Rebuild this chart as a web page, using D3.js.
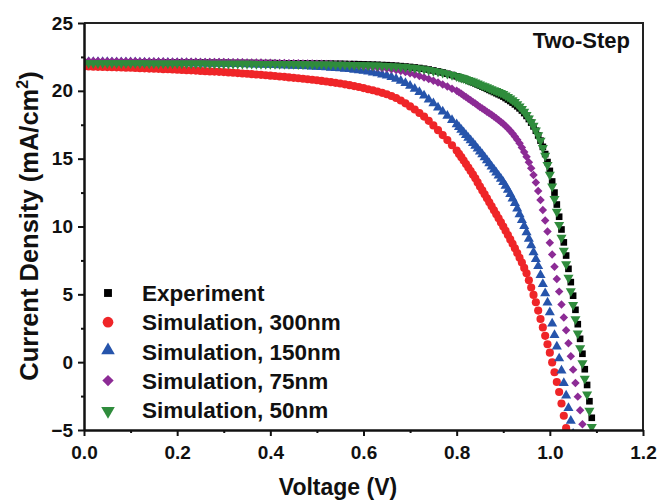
<!DOCTYPE html>
<html>
<head>
<meta charset="utf-8">
<script src="https://cdn.jsdelivr.net/npm/d3@7"></script>
<style>
  html, body { margin: 0; padding: 0; background: #fff; }
  svg { display: block; }
  text { font-family: Arial, "Liberation Sans", Helvetica, sans-serif; font-weight: bold; fill: #111; }
</style>
</head>
<body>
<svg id="chart" width="659" height="500"></svg>
<script>
// ---------------- data ----------------
const voltage = [
  0.00,0.01,0.02,0.03,0.04,0.05,0.06,0.07,0.08,0.09,0.10,
  0.11,0.12,0.13,0.14,0.15,0.16,0.17,0.18,0.19,0.20,
  0.21,0.22,0.23,0.24,0.25,0.26,0.27,0.28,0.29,0.30,
  0.31,0.32,0.33,0.34,0.35,0.36,0.37,0.38,0.39,0.40,
  0.41,0.42,0.43,0.44,0.45,0.46,0.47,0.48,0.49,0.50,
  0.51,0.52,0.53,0.54,0.55,0.56,0.57,0.58,0.59,0.60,
  0.61,0.62,0.63,0.64,0.65,0.66,0.67,0.68,0.69,0.70,
  0.71,0.72,0.73,0.74,0.75,0.76,0.77,0.78,0.79,0.80,
  0.805,0.810,0.815,0.820,0.825,0.830,0.835,0.840,0.845,0.850,
  0.855,0.860,0.865,0.870,0.875,0.880,0.885,0.890,0.895,0.900,
  0.905,0.910,0.915,0.920,0.925,0.930,0.935,0.940,0.945,0.950,
  0.955,0.960,0.965,0.970,0.975,0.980,0.985,0.990,0.995,1.000,
  1.005,1.010,1.015,1.020,1.025,1.030,1.035,1.040,1.045,1.050,
  1.055,1.060,1.065,1.070,1.075,1.080,1.085,1.090,1.095
];

const jExperiment = [
  22.10,22.10,22.10,22.10,22.10,22.10,22.10,22.10,22.09,22.09,22.09,
  22.09,22.09,22.09,22.09,22.08,22.08,22.08,22.08,22.08,22.08,
  22.08,22.07,22.07,22.07,22.07,22.07,22.06,22.06,22.06,22.06,
  22.06,22.05,22.05,22.05,22.05,22.05,22.04,22.04,22.04,22.04,
  22.04,22.03,22.03,22.03,22.03,22.02,22.02,22.02,22.01,22.01,
  22.01,22.00,22.00,21.99,21.99,21.98,21.97,21.97,21.96,21.95,
  21.94,21.93,21.92,21.90,21.89,21.87,21.85,21.82,21.79,21.76,
  21.72,21.68,21.63,21.57,21.50,21.43,21.35,21.26,21.17,21.07,
  21.01,20.95,20.89,20.83,20.76,20.69,20.62,20.55,20.47,20.39,
  20.31,20.23,20.15,20.07,19.99,19.91,19.83,19.75,19.67,19.58,
  19.47,19.36,19.25,19.13,19.00,18.86,18.71,18.55,18.36,18.15,
  17.92,17.66,17.38,17.06,16.71,16.33,15.87,15.34,14.75,14.10,
  13.32,12.50,11.62,10.72,9.78,8.83,7.86,6.88,5.90,4.90,
  3.86,2.80,1.72,0.62,-0.52,-1.68,-2.88,-4.10,-5.35
];

const jSim300 = [
  21.80,21.79,21.78,21.77,21.76,21.75,21.74,21.73,21.72,21.71,21.70,
  21.69,21.67,21.66,21.64,21.63,21.62,21.60,21.59,21.57,21.56,
  21.54,21.52,21.51,21.49,21.47,21.45,21.43,21.42,21.40,21.38,
  21.36,21.33,21.31,21.28,21.26,21.23,21.20,21.18,21.15,21.12,
  21.09,21.06,21.03,20.99,20.96,20.93,20.89,20.85,20.82,20.78,
  20.73,20.69,20.64,20.59,20.54,20.48,20.42,20.35,20.28,20.20,
  20.12,20.04,19.95,19.85,19.75,19.62,19.47,19.29,19.08,18.85,
  18.62,18.37,18.10,17.79,17.45,17.10,16.74,16.37,15.99,15.60,
  15.35,15.11,14.86,14.61,14.35,14.09,13.82,13.55,13.25,12.95,
  12.66,12.37,12.08,11.78,11.49,11.19,10.90,10.60,10.30,10.00,
  9.69,9.37,9.05,8.72,8.39,8.05,7.70,7.34,6.95,6.55,
  6.04,5.50,4.96,4.42,3.80,3.18,2.56,1.94,1.32,0.70,
  -0.02,-0.74,-1.46,-2.20,-3.05,-3.95,-4.85,-5.80
];

const jSim150 = [
  22.05,22.05,22.05,22.04,22.04,22.04,22.03,22.03,22.03,22.02,22.02,
  22.02,22.01,22.01,22.00,22.00,22.00,21.99,21.99,21.98,21.98,
  21.97,21.97,21.96,21.96,21.95,21.94,21.94,21.93,21.93,21.92,
  21.91,21.90,21.90,21.89,21.88,21.87,21.86,21.86,21.85,21.84,
  21.83,21.81,21.80,21.79,21.77,21.76,21.75,21.73,21.72,21.70,
  21.68,21.66,21.63,21.61,21.58,21.55,21.52,21.48,21.44,21.40,
  21.34,21.28,21.21,21.13,21.05,20.94,20.81,20.66,20.49,20.30,
  20.07,19.83,19.57,19.29,19.00,18.70,18.39,18.08,17.77,17.45,
  17.26,17.06,16.87,16.67,16.47,16.27,16.07,15.87,15.66,15.45,
  15.24,15.02,14.80,14.58,14.35,14.13,13.90,13.67,13.44,13.20,
  12.92,12.62,12.31,11.99,11.66,11.25,10.83,10.40,9.96,9.50,
  9.02,8.53,8.03,7.52,7.00,6.35,5.68,5.00,4.31,3.60,
  2.77,1.93,1.07,0.20,-0.70,-1.61,-2.53,-3.46,-4.40,-5.35
];

const jSim75 = [
  22.20,22.20,22.20,22.20,22.19,22.19,22.19,22.19,22.18,22.18,22.18,
  22.18,22.17,22.17,22.17,22.16,22.16,22.16,22.15,22.15,22.15,
  22.15,22.14,22.14,22.14,22.13,22.13,22.13,22.12,22.12,22.12,
  22.11,22.11,22.10,22.10,22.09,22.09,22.08,22.08,22.07,22.07,
  22.06,22.06,22.05,22.04,22.04,22.03,22.02,22.02,22.01,22.00,
  21.99,21.98,21.97,21.95,21.94,21.92,21.90,21.88,21.85,21.82,
  21.79,21.76,21.72,21.68,21.64,21.59,21.53,21.46,21.38,21.30,
  21.20,21.10,20.99,20.87,20.75,20.61,20.47,20.32,20.16,20.00,
  19.89,19.78,19.66,19.54,19.42,19.30,19.18,19.06,18.93,18.80,
  18.69,18.58,18.46,18.35,18.23,18.11,17.98,17.85,17.71,17.57,
  17.41,17.24,17.06,16.86,16.64,16.40,16.13,15.83,15.50,15.14,
  14.74,14.30,13.80,13.24,12.62,11.95,11.22,10.44,9.63,8.80,
  7.93,7.04,6.13,5.20,4.25,3.30,2.35,1.40,0.43,-0.55,
  -1.54,-2.54,-3.55,-4.57,-5.60
];

const jSim50 = [
  22.12,22.12,22.12,22.12,22.12,22.12,22.11,22.11,22.11,22.11,22.11,
  22.11,22.11,22.11,22.10,22.10,22.10,22.10,22.10,22.10,22.10,
  22.10,22.09,22.09,22.09,22.09,22.09,22.08,22.08,22.08,22.08,
  22.08,22.07,22.07,22.07,22.07,22.07,22.06,22.06,22.06,22.06,
  22.06,22.05,22.05,22.05,22.05,22.04,22.04,22.04,22.03,22.03,
  22.03,22.02,22.02,22.01,22.01,22.00,21.99,21.99,21.98,21.97,
  21.96,21.95,21.94,21.93,21.92,21.90,21.88,21.86,21.83,21.80,
  21.77,21.73,21.68,21.62,21.55,21.48,21.41,21.33,21.24,21.15,
  21.10,21.05,21.00,20.94,20.88,20.82,20.76,20.69,20.62,20.55,
  20.48,20.41,20.34,20.27,20.20,20.13,20.06,19.99,19.92,19.85,
  19.74,19.62,19.51,19.38,19.25,19.10,18.93,18.74,18.53,18.30,
  18.04,17.77,17.50,17.16,16.80,16.40,15.87,15.30,14.62,13.90,
  13.02,12.10,11.16,10.20,9.25,8.30,7.30,6.30,5.30,4.30,
  3.25,2.20,1.10,0.00,-1.15,-2.30,-3.50,-4.70,-5.90
];

const seriesNames = ["Experiment", "Simulation, 300nm", "Simulation, 150nm", "Simulation, 75nm", "Simulation, 50nm"];
const seriesValues = [jExperiment, jSim300, jSim150, jSim75, jSim50];
const seriesColors = ["#000000", "#ef2528", "#2654ab", "#8c2b95", "#2f8c3c"];
const seriesSymbols = ["square", "circle", "triangleUp", "diamond", "triangleDown"];

const xTicks = [0.0, 0.2, 0.4, 0.6, 0.8, 1.0, 1.2];
const xMinorTicks = [0.1, 0.3, 0.5, 0.7, 0.9, 1.1];
const yTicks = [-5, 0, 5, 10, 15, 20, 25];
const yMinorTicks = [-2.5, 2.5, 7.5, 12.5, 17.5, 22.5];
const annotation = "Two-Step";

// ---------------- layout ----------------
const L = 84, R = 643, T = 23, B = 430;
const svg = d3.select("#chart");
const x = d3.scaleLinear().domain([0, 1.2]).range([L, R]);
const y = d3.scaleLinear().domain([-5, 25]).range([B, T]);

function symbolPath(kind, size) {
  const type = kind === "square" || kind === "diamond" ? d3.symbolSquare
    : kind === "circle" ? d3.symbolCircle : d3.symbolTriangle;
  return d3.symbol().type(type).size(size)();
}
function symbolTransform(kind, px, py) {
  if (kind === "triangleDown") return `translate(${px},${py + 1}) rotate(180)`;
  if (kind === "triangleUp") return `translate(${px},${py - 1})`;
  if (kind === "diamond") return `translate(${px},${py}) rotate(45)`;
  return `translate(${px},${py})`;
}
const plotSize = { square: 44, circle: 52, triangleUp: 44, diamond: 36, triangleDown: 44 };
const legendSize = { square: 62, circle: 90, triangleUp: 80, diamond: 64, triangleDown: 80 };

svg.append("defs").append("clipPath").attr("id", "plotclip")
  .append("rect").attr("x", L).attr("y", T).attr("width", R - L).attr("height", B - T);

// data markers
const plot = svg.append("g").attr("clip-path", "url(#plotclip)");
seriesValues.forEach((vals, s) => {
  const kind = seriesSymbols[s];
  const pts = vals.map((j, i) => ({ v: voltage[i], j }));
  plot.append("g").selectAll("path").data(pts).join("path")
    .attr("d", symbolPath(kind, plotSize[kind]))
    .attr("transform", d => symbolTransform(kind, x(d.v), y(d.j)))
    .attr("fill", seriesColors[s]);
});

// frame (top and right)
svg.append("path")
  .attr("d", `M${L},${T}H${R}V${B}`)
  .attr("fill", "none").attr("stroke", "#222").attr("stroke-width", 2);

// axes
const fmtX = d3.format(".1f");
svg.append("g").attr("transform", `translate(0,${B})`)
  .call(d3.axisBottom(x).tickValues(xTicks).tickFormat(fmtX).tickSize(6).tickSizeOuter(0).tickPadding(10));
svg.append("g").attr("transform", `translate(0,${B})`)
  .call(d3.axisBottom(x).tickValues(xMinorTicks).tickFormat("").tickSize(3).tickSizeOuter(0))
  .call(g => g.select(".domain").remove());
svg.append("g").attr("transform", `translate(${L},0)`)
  .call(d3.axisLeft(y).tickValues(yTicks).tickSize(6).tickSizeOuter(0).tickPadding(5));
svg.append("g").attr("transform", `translate(${L},0)`)
  .call(d3.axisLeft(y).tickValues(yMinorTicks).tickFormat("").tickSize(3).tickSizeOuter(0))
  .call(g => g.select(".domain").remove());

svg.selectAll(".domain").attr("stroke", "#111").attr("stroke-width", 2.5);
svg.selectAll(".tick line").attr("stroke", "#111").attr("stroke-width", 2);
svg.selectAll(".tick text").attr("font-size", 19).attr("font-family", "Arial, 'Liberation Sans', sans-serif")
  .attr("font-weight", "bold").attr("fill", "#111");

// axis titles
svg.append("text").attr("x", 338).attr("y", 495)
  .attr("text-anchor", "middle").attr("font-size", 23).text("Voltage (V)");
const yTitle = svg.append("text")
  .attr("transform", `translate(38,226) rotate(-90)`)
  .attr("text-anchor", "middle").attr("font-size", 25.5);
yTitle.append("tspan").text("Current Density (mA/cm");
yTitle.append("tspan").attr("font-size", 16).attr("dy", -10).text("2");
yTitle.append("tspan").attr("dy", 10).text(")");

// annotation
svg.append("text").attr("x", 630).attr("y", 48).attr("text-anchor", "end")
  .attr("font-size", 22).text(annotation);

// legend
const legend = svg.append("g");
seriesNames.forEach((name, s) => {
  const kind = seriesSymbols[s];
  const ly = 293 + s * 29.2;
  legend.append("path")
    .attr("d", symbolPath(kind, legendSize[kind]))
    .attr("transform", symbolTransform(kind, 108, ly))
    .attr("fill", seriesColors[s]);
  legend.append("text").attr("x", 142).attr("y", ly).attr("dy", "0.36em")
    .attr("font-size", 22.5).text(name);
});
</script>
</body>
</html>
